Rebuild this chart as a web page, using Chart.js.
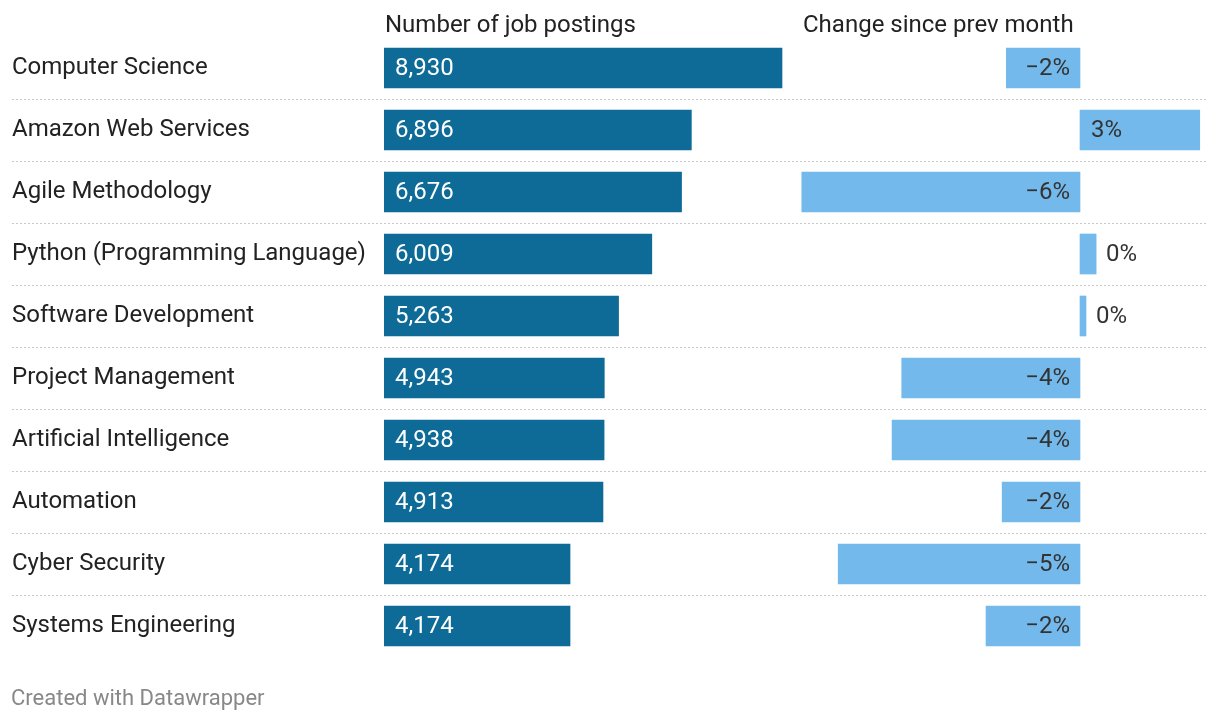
<!DOCTYPE html>
<html>
<head>
<meta charset="utf-8">
<script src="https://cdn.jsdelivr.net/npm/chart.js@4"></script>
<style>
  body { margin: 0; background: #fff; font-family: Roboto, sans-serif; }
  #wrap { position: relative; width: 1220px; height: 722px; }
  #wrap canvas { position: absolute; left: 0; top: 0; }
  .hdr { position: absolute; top: 10px; font-size: 24px; line-height: 28px; color: #222; white-space: nowrap; }
  .foot { position: absolute; left: 11px; top: 685px; font-size: 22px; line-height: 26px; color: #888; }
</style>
</head>
<body>
<div id="wrap">
  <canvas id="chart1" width="1220" height="722"></canvas>
  <div class="hdr" style="left:385px">Number of job postings</div>
  <div class="hdr" style="left:803px">Change since prev month</div>
  <div class="foot">Created with Datawrapper</div>
</div>
<script>
//Categories and values
let skills = ['Computer Science', 'Amazon Web Services', 'Agile Methodology', 'Python (Programming Language)',
    'Software Development', 'Project Management', 'Artificial Intelligence', 'Automation',
    'Cyber Security', 'Systems Engineering'];
let postings = [8930, 6896, 6676, 6009, 5263, 4943, 4938, 4913, 4174, 4174];
let change_pct = [-1.6, 2.6, -6.04, 0.35, 0.13, -3.87, -4.08, -1.69, -5.25, -2.04];

const dark_blue = '#0e6b98';
const light_blue = '#74b9ec';
const label_font = '24px Roboto';

//Both columns share one chart area (384..1208); axis ranges put each column in place
const area_left = 384, area_right = 1208;
const post_end = 782;   // pixel where the biggest posting bar ends
const zero_x = 1080;    // pixel of 0% in the change column
const px_per_pct = 46.06;
const post_max = postings[0] * (area_right - area_left) / (post_end - area_left);
const chg_min = -(zero_x - area_left) / px_per_pct;
const chg_max = (area_right - zero_x) / px_per_pct;

const fmt_pct = (v) => {
    let r = Math.round(v);
    return (r < 0 ? '\u2212' + Math.abs(r) : String(Math.abs(r))) + '%';
}

//Dotted row separators and the value labels
const rows_plugin = {
    id: 'rows',
    beforeDatasetsDraw(chart) {
        const ctx = chart.ctx;
        const y = chart.scales.y;
        ctx.save();
        ctx.strokeStyle = '#c8c8c8';
        ctx.lineWidth = 1;
        ctx.setLineDash([2, 2]);
        for (let i = 1; i < skills.length; i++) {
            let yy = Math.round((y.getPixelForValue(i - 1) + y.getPixelForValue(i)) / 2) + 0.5;
            ctx.beginPath();
            ctx.moveTo(12, yy);
            ctx.lineTo(area_right, yy);
            ctx.stroke();
        }
        ctx.restore();
    },
    afterDatasetsDraw(chart) {
        const ctx = chart.ctx;
        ctx.save();
        ctx.font = label_font;
        ctx.textBaseline = 'middle';
        chart.getDatasetMeta(0).data.forEach((bar, i) => {
            ctx.fillStyle = '#fff';
            ctx.textAlign = 'left';
            ctx.fillText(postings[i].toLocaleString('en-US'), bar.base + 11, bar.y + 1);
        });
        chart.getDatasetMeta(1).data.forEach((bar, i) => {
            let txt = fmt_pct(change_pct[i]);
            let w = ctx.measureText(txt).width;
            let len = Math.abs(bar.x - bar.base);
            ctx.fillStyle = '#333';
            if (change_pct[i] < 0) {
                ctx.textAlign = 'right';
                ctx.fillText(txt, bar.base - 10, bar.y + 1);
            } else if (len > w + 20) {
                ctx.textAlign = 'left';
                ctx.fillText(txt, bar.base + 11, bar.y + 1);
            } else {
                ctx.textAlign = 'left';
                ctx.fillText(txt, bar.x + 10, bar.y + 1);
            }
        });
        ctx.restore();
    }
}

let chart = new Chart(document.getElementById('chart1'), {
    type: 'bar',
    data: {
        labels: skills,
        datasets: [{
            label: 'Number of job postings',
            data: postings,
            xAxisID: 'xPost',
            backgroundColor: dark_blue,
            barThickness: 40,
            grouped: false
        }, {
            label: 'Change since prev month',
            data: change_pct,
            xAxisID: 'xChg',
            backgroundColor: light_blue,
            barThickness: 40,
            grouped: false
        }]
    },
    options: {
        indexAxis: 'y',
        responsive: false,
        animation: false,
        layout: { padding: { left: 12, right: 1220 - area_right, top: 37, bottom: 65 } },
        plugins: { legend: { display: false }, tooltip: { enabled: false } },
        scales: {
            xPost: { type: 'linear', display: false, min: 0, max: post_max },
            xChg: { type: 'linear', display: false, min: chg_min, max: chg_max },
            y: {
                position: 'left',
                grid: { display: false },
                border: { display: false },
                ticks: {
                    crossAlign: 'far',
                    color: '#222',
                    font: { family: 'Roboto', size: 24 },
                    padding: 0
                },
                afterFit: (scale) => { scale.width = area_left - 12; }
            }
        }
    },
    plugins: [rows_plugin]
});
</script>
</body>
</html>
